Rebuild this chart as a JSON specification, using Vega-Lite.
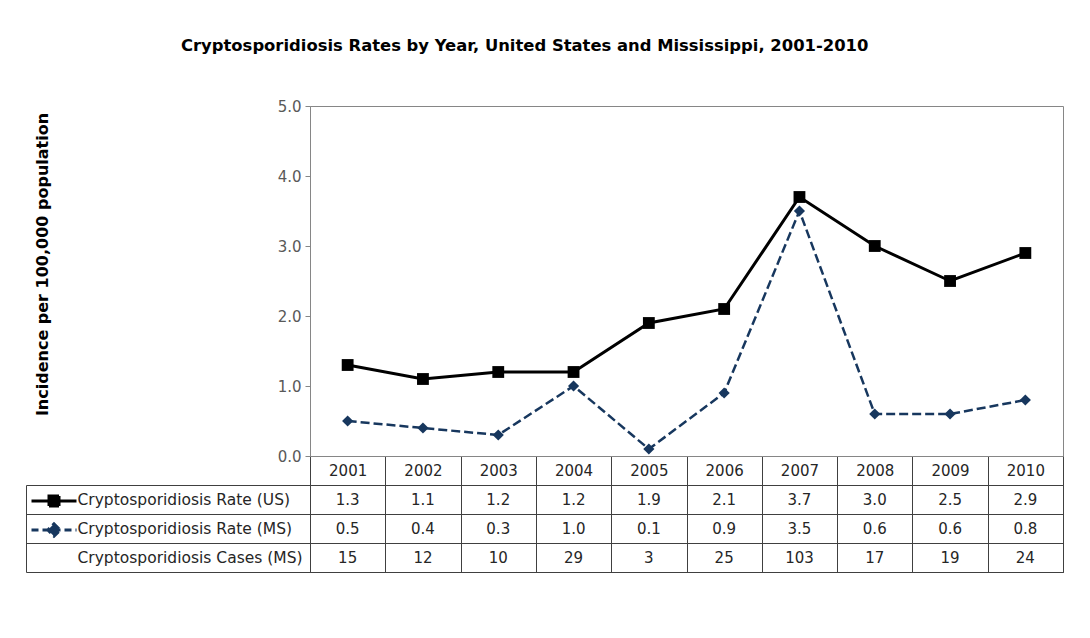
{
  "$schema": "https://vega.github.io/schema/vega-lite/v6.json",
  "autosize": {"type": "none"},
  "padding": {"left": 310, "top": 106, "right": 780, "bottom": 532},
  "background": "white",
  "bounds": "flush",
  "spacing": 29,
  "config": {
    "font": "DejaVu Sans",
    "axis": {"labelFont": "DejaVu Sans", "titleFont": "DejaVu Sans"},
    "title": {"font": "DejaVu Sans"},
    "legend": {"rowPadding": 5, "gridAlign": "none"}
  },
  "datasets": {
    "rates": [
      {"Year": "2001", "Cryptosporidiosis Rate (US)": 1.3, "Cryptosporidiosis Rate (MS)": 0.5, "Cryptosporidiosis Cases (MS)": 15},
      {"Year": "2002", "Cryptosporidiosis Rate (US)": 1.1, "Cryptosporidiosis Rate (MS)": 0.4, "Cryptosporidiosis Cases (MS)": 12},
      {"Year": "2003", "Cryptosporidiosis Rate (US)": 1.2, "Cryptosporidiosis Rate (MS)": 0.3, "Cryptosporidiosis Cases (MS)": 10},
      {"Year": "2004", "Cryptosporidiosis Rate (US)": 1.2, "Cryptosporidiosis Rate (MS)": 1.0, "Cryptosporidiosis Cases (MS)": 29},
      {"Year": "2005", "Cryptosporidiosis Rate (US)": 1.9, "Cryptosporidiosis Rate (MS)": 0.1, "Cryptosporidiosis Cases (MS)": 3},
      {"Year": "2006", "Cryptosporidiosis Rate (US)": 2.1, "Cryptosporidiosis Rate (MS)": 0.9, "Cryptosporidiosis Cases (MS)": 25},
      {"Year": "2007", "Cryptosporidiosis Rate (US)": 3.7, "Cryptosporidiosis Rate (MS)": 3.5, "Cryptosporidiosis Cases (MS)": 103},
      {"Year": "2008", "Cryptosporidiosis Rate (US)": 3.0, "Cryptosporidiosis Rate (MS)": 0.6, "Cryptosporidiosis Cases (MS)": 17},
      {"Year": "2009", "Cryptosporidiosis Rate (US)": 2.5, "Cryptosporidiosis Rate (MS)": 0.6, "Cryptosporidiosis Cases (MS)": 19},
      {"Year": "2010", "Cryptosporidiosis Rate (US)": 2.9, "Cryptosporidiosis Rate (MS)": 0.8, "Cryptosporidiosis Cases (MS)": 24}
    ]
  },
  "vconcat": [
    {
      "width": 753,
      "height": 350,
      "view": {"stroke": "#868686", "strokeWidth": 1},
      "data": {"name": "rates"},
      "transform": [
        {"fold": ["Cryptosporidiosis Rate (US)", "Cryptosporidiosis Rate (MS)"], "as": ["series", "rate"]}
      ],
      "title": {
        "text": "Cryptosporidiosis Rates by Year, United States and Mississippi, 2001-2010",
        "anchor": "start",
        "frame": "group",
        "dx": -129,
        "dy": -41,
        "fontSize": 16.4,
        "fontWeight": "bold",
        "color": "#000000"
      },
      "encoding": {
        "x": {
          "field": "Year",
          "type": "ordinal",
          "scale": {"type": "band", "paddingInner": 0, "paddingOuter": 0},
          "axis": {
            "title": null,
            "labelAngle": 0,
            "tickBand": "extent",
            "tickSize": 29,
            "tickColor": "#404040",
            "domainColor": "#868686",
            "labelFontSize": 15,
            "labelColor": "#262626",
            "labelBaseline": "middle",
            "labelPadding": -14.5
          }
        },
        "y": {
          "field": "rate",
          "type": "quantitative",
          "scale": {"domain": [0, 5]},
          "axis": {
            "values": [0, 1, 2, 3, 4, 5],
            "format": ".1f",
            "grid": false,
            "tickSize": 5,
            "tickColor": "#868686",
            "domainColor": "#868686",
            "labelFontSize": 15,
            "labelColor": "#595959",
            "labelPadding": 4,
            "title": "Incidence per 100,000 population",
            "titleFontSize": 16,
            "titleFontWeight": "bold",
            "titleColor": "#000000",
            "titleX": -268,
            "titleY": 158,
            "titleAngle": 270,
            "titleAlign": "center",
            "titleBaseline": "middle"
          }
        },
        "color": {
          "field": "series",
          "type": "nominal",
          "scale": {
            "domain": ["Cryptosporidiosis Rate (US)", "Cryptosporidiosis Rate (MS)"],
            "range": ["#000000", "#17375E"]
          },
          "legend": {
            "orient": "none",
            "legendX": -267.5,
            "legendY": 383.5,
            "direction": "vertical",
            "title": null,
            "labelExpr": "''",
            "labelFontSize": 1,
            "symbolSize": 400,
            "padding": 0,
            "symbolStrokeWidth": 3,
            "symbolOpacity": 1,
            "encode": {
              "symbols": {
                "update": {
                  "shape": {"signal": "datum.value === 'Cryptosporidiosis Rate (US)' ? 'M-2.25,0H2.25M-0.5,-0.5H0.5V0.5H-0.5Z' : 'M-2.25,0H2.25M0,-0.62L0.62,0L0,0.62L-0.62,0Z'"},
                  "size": {"value": 400},
                  "fill": {"scale": "color", "field": "value"},
                  "stroke": {"scale": "color", "field": "value"},
                  "strokeWidth": {"value": 3},
                  "strokeDash": {"signal": "datum.value === 'Cryptosporidiosis Rate (US)' ? [1, 0] : [7, 4]"}
                }
              }
            }
          }
        }
      },
      "layer": [
        {
          "transform": [{"filter": "datum.series === 'Cryptosporidiosis Rate (US)'"}],
          "mark": {"type": "line", "strokeWidth": 3, "strokeCap": "butt"}
        },
        {
          "transform": [{"filter": "datum.series === 'Cryptosporidiosis Rate (MS)'"}],
          "mark": {"type": "line", "strokeWidth": 2.5, "strokeDash": [9, 4], "strokeCap": "butt"}
        },
        {
          "transform": [{"filter": "datum.series === 'Cryptosporidiosis Rate (US)'"}],
          "mark": {"type": "point", "shape": "square", "size": 140, "filled": true, "opacity": 1}
        },
        {
          "transform": [{"filter": "datum.series === 'Cryptosporidiosis Rate (MS)'"}],
          "mark": {"type": "point", "shape": "diamond", "size": 125, "filled": true, "opacity": 1}
        }
      ]
    },
    {
      "width": 753,
      "height": 87,
      "view": {"stroke": "#404040", "strokeWidth": 1},
      "data": {"name": "rates"},
      "transform": [
        {"fold": ["Cryptosporidiosis Rate (US)", "Cryptosporidiosis Rate (MS)", "Cryptosporidiosis Cases (MS)"], "as": ["row", "value"]}
      ],
      "encoding": {
        "x": {
          "field": "Year",
          "type": "ordinal",
          "scale": {"type": "band", "paddingInner": 0, "paddingOuter": 0},
          "axis": {
            "title": null,
            "grid": true,
            "gridColor": "#404040",
            "gridOpacity": 1,
            "tickBand": "extent",
            "labels": false,
            "ticks": false,
            "domain": false
          }
        },
        "y": {
          "field": "row",
          "type": "nominal",
          "sort": ["Cryptosporidiosis Rate (US)", "Cryptosporidiosis Rate (MS)", "Cryptosporidiosis Cases (MS)"],
          "scale": {"type": "band", "paddingInner": 0, "paddingOuter": 0},
          "axis": {
            "title": null,
            "offset": 284,
            "tickSize": -284,
            "tickBand": "extent",
            "tickColor": "#404040",
            "domainColor": "#404040",
            "grid": true,
            "gridColor": "#404040",
            "gridOpacity": 1,
            "labelAlign": "left",
            "labelBaseline": "middle",
            "labelPadding": 233,
            "labelFontSize": 15.5,
            "labelColor": "#262626",
            "labelLimit": 0
          }
        }
      },
      "layer": [
        {
          "transform": [{"filter": "datum.row !== 'Cryptosporidiosis Cases (MS)'"}],
          "mark": {"type": "text", "fontSize": 15, "color": "#262626", "font": "DejaVu Sans"},
          "encoding": {"text": {"field": "value", "type": "quantitative", "format": ".1f"}}
        },
        {
          "transform": [{"filter": "datum.row === 'Cryptosporidiosis Cases (MS)'"}],
          "mark": {"type": "text", "fontSize": 15, "color": "#262626", "font": "DejaVu Sans"},
          "encoding": {"text": {"field": "value", "type": "quantitative", "format": "d"}}
        }
      ]
    }
  ]
}
